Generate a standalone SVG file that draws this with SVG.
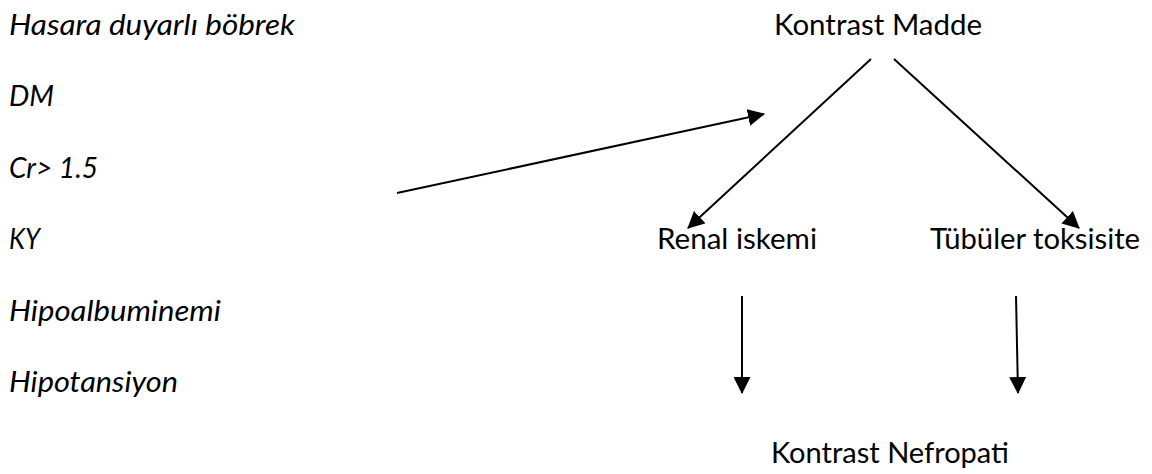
<svg xmlns="http://www.w3.org/2000/svg" width="1152" height="474" viewBox="0 0 1152 474">
  <defs>
    <style>
      .t { font-family: Lato, "Liberation Sans", sans-serif; font-size: 29px; fill: #000; }
      .i { font-style: italic; }
      .c { stroke: #000; stroke-width: 2; fill: none; }
    </style>
    <marker id="ah" markerUnits="userSpaceOnUse" markerWidth="17" markerHeight="17" refX="16" refY="8.5" orient="auto" viewBox="0 0 17 17">
      <path d="M0,0 L17,8.5 L0,17 Z" fill="#000"/>
    </marker>
  </defs>
  <rect width="1152" height="474" fill="#fff"/>
  <g id="risk-factors">
    <text class="t i" x="9" y="35" textLength="286" lengthAdjust="spacingAndGlyphs">Hasara duyarlı böbrek</text>
    <text class="t i" x="9" y="106" textLength="45" lengthAdjust="spacingAndGlyphs">DM</text>
    <text class="t i" x="9" y="178" textLength="89" lengthAdjust="spacingAndGlyphs">Cr&gt; 1.5</text>
    <text class="t i" x="9" y="249" textLength="31" lengthAdjust="spacingAndGlyphs">KY</text>
    <text class="t i" x="9" y="321" textLength="212" lengthAdjust="spacingAndGlyphs">Hipoalbuminemi</text>
    <text class="t i" x="9" y="392" textLength="169" lengthAdjust="spacingAndGlyphs">Hipotansiyon</text>
  </g>
  <g id="kontrast-madde">
    <text class="t" x="774" y="35" textLength="208" lengthAdjust="spacingAndGlyphs">Kontrast Madde</text>
  </g>
  <g id="renal-iskemi">
    <text class="t" x="657" y="249" textLength="160" lengthAdjust="spacingAndGlyphs">Renal iskemi</text>
  </g>
  <g id="tubuler-toksisite">
    <text class="t" x="930" y="249" textLength="210" lengthAdjust="spacingAndGlyphs">Tübüler toksisite</text>
  </g>
  <g id="kontrast-nefropati">
    <text class="t" x="771" y="463" textLength="238" lengthAdjust="spacingAndGlyphs">Kontrast Nefropati</text>
  </g>
  <g id="connectors">
    <line class="c" x1="397" y1="193" x2="764" y2="114" marker-end="url(#ah)"/>
    <line class="c" x1="871" y1="59" x2="688" y2="228" marker-end="url(#ah)"/>
    <line class="c" x1="894" y1="59" x2="1079" y2="228" marker-end="url(#ah)"/>
    <line class="c" x1="742" y1="296" x2="742" y2="393" marker-end="url(#ah)"/>
    <line class="c" x1="1016" y1="296" x2="1018" y2="393" marker-end="url(#ah)"/>
  </g>
</svg>
